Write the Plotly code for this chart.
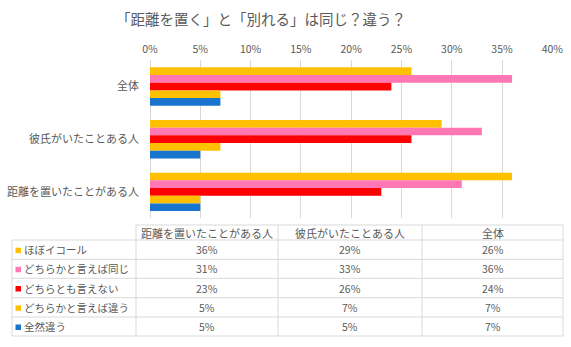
import plotly.graph_objects as go

W, H = 571, 347
FONT = "Noto Sans CJK JP"
TXT = "#595959"
GRID = "#D9D9D9"

title = "「距離を置く」と「別れる」は同じ？違う？"
categories = ["全体", "彼氏がいたことある人", "距離を置いたことがある人"]
series_names = ["ほぼイコール", "どちらかと言えば同じ", "どちらとも言えない", "どちらかと言えば違う", "全然違う"]
series_colors = ["#FFC000", "#FF78B4", "#FF0000", "#FFC000", "#1874CD"]
# values per series, in category order (全体, 彼氏がいたことある人, 距離を置いたことがある人)
v_equal = [26, 29, 36]
v_same = [36, 33, 31]
v_neither = [24, 26, 23]
v_diff = [7, 7, 5]
v_totally = [7, 5, 5]
series_values = [v_equal, v_same, v_neither, v_diff, v_totally]
table_columns = ["距離を置いたことがある人", "彼氏がいたことある人", "全体"]
x_ticks = [0, 5, 10, 15, 20, 25, 30, 35, 40]


def px(x):
    return x / W


def py(y):
    return 1 - y / H


fig = go.Figure()
for name, col, vals in zip(series_names, series_colors, series_values):
    fig.add_trace(go.Bar(y=categories, x=vals, name=name, orientation="h",
                         marker=dict(color=col, line=dict(width=0)), showlegend=False))

fig.update_layout(
    width=W, height=H, margin=dict(l=0, r=0, t=0, b=0),
    paper_bgcolor="white", plot_bgcolor="white",
    barmode="group", bargap=0.27, bargroupgap=0,
    font=dict(family=FONT, color=TXT, size=11),
    xaxis=dict(domain=[px(150), px(552.3)], range=[0, 40], side="top",
               automargin=False,
               tickvals=x_ticks, ticktext=[f"{t}%" for t in x_ticks],
               showgrid=True, gridcolor=GRID, gridwidth=1,
               zeroline=True, zerolinecolor=GRID, zerolinewidth=1,
               showline=False, ticks="", ticklabelstandoff=4,
               tickfont=dict(size=10.5, color=TXT, family=FONT)),
    yaxis=dict(domain=[py(218.2), py(60.2)], categoryorder="array",
               automargin=False,
               categoryarray=categories, autorange="reversed",
               showgrid=False, zeroline=False, showline=False, ticks="",
               ticklabelstandoff=10,
               tickfont=dict(size=11, color=TXT, family=FONT)),
)

annotations = [dict(text=title, x=px(261), y=py(18), xref="paper", yref="paper",
                    showarrow=False, xanchor="center", yanchor="middle",
                    font=dict(size=14.5, color=TXT, family=FONT))]
shapes = []

# data table
col_edges = [12, 136, 278, 422, 563]
row_edges = [225, 240, 259.3, 278.3, 297.7, 317, 336]


def hline(y, x0, x1):
    shapes.append(dict(type="line", xref="paper", yref="paper", x0=px(x0), x1=px(x1),
                       y0=py(y), y1=py(y), line=dict(color=GRID, width=1)))


def vline(x, y0, y1):
    shapes.append(dict(type="line", xref="paper", yref="paper", x0=px(x), x1=px(x),
                       y0=py(y0), y1=py(y1), line=dict(color=GRID, width=1)))


hline(row_edges[0], col_edges[1], col_edges[-1])
for y in row_edges[1:]:
    hline(y, col_edges[0], col_edges[-1])
vline(col_edges[0], row_edges[1], row_edges[-1])
for x in col_edges[1:]:
    vline(x, row_edges[0], row_edges[-1])

# header
for j, h in enumerate(table_columns):
    cx = (col_edges[j + 1] + col_edges[j + 2]) / 2
    cy = (row_edges[0] + row_edges[1]) / 2
    annotations.append(dict(text=h, x=px(cx), y=py(cy), xref="paper", yref="paper",
                            showarrow=False, xanchor="center", yanchor="middle",
                            font=dict(size=11, color=TXT, family=FONT)))

# rows
for i, (name, col, vals) in enumerate(zip(series_names, series_colors, series_values)):
    cy = (row_edges[i + 1] + row_edges[i + 2]) / 2
    shapes.append(dict(type="rect", xref="paper", yref="paper", x0=px(15.5), x1=px(21),
                       y0=py(cy + 3.5), y1=py(cy - 2), fillcolor=col, line=dict(width=0)))
    annotations.append(dict(text=name, x=px(21.5), y=py(cy), xref="paper", yref="paper",
                            showarrow=False, xanchor="left", yanchor="middle",
                            font=dict(size=10.5, color=TXT, family=FONT)))
    table_vals = list(reversed(vals))
    for j, v in enumerate(table_vals):
        cx = (col_edges[j + 1] + col_edges[j + 2]) / 2
        annotations.append(dict(text=f"{v}%", x=px(cx), y=py(cy), xref="paper", yref="paper",
                                showarrow=False, xanchor="center", yanchor="middle",
                                font=dict(size=10.5, color=TXT, family=FONT)))

fig.update_layout(annotations=annotations, shapes=shapes)
fig.write_html("out.html")
